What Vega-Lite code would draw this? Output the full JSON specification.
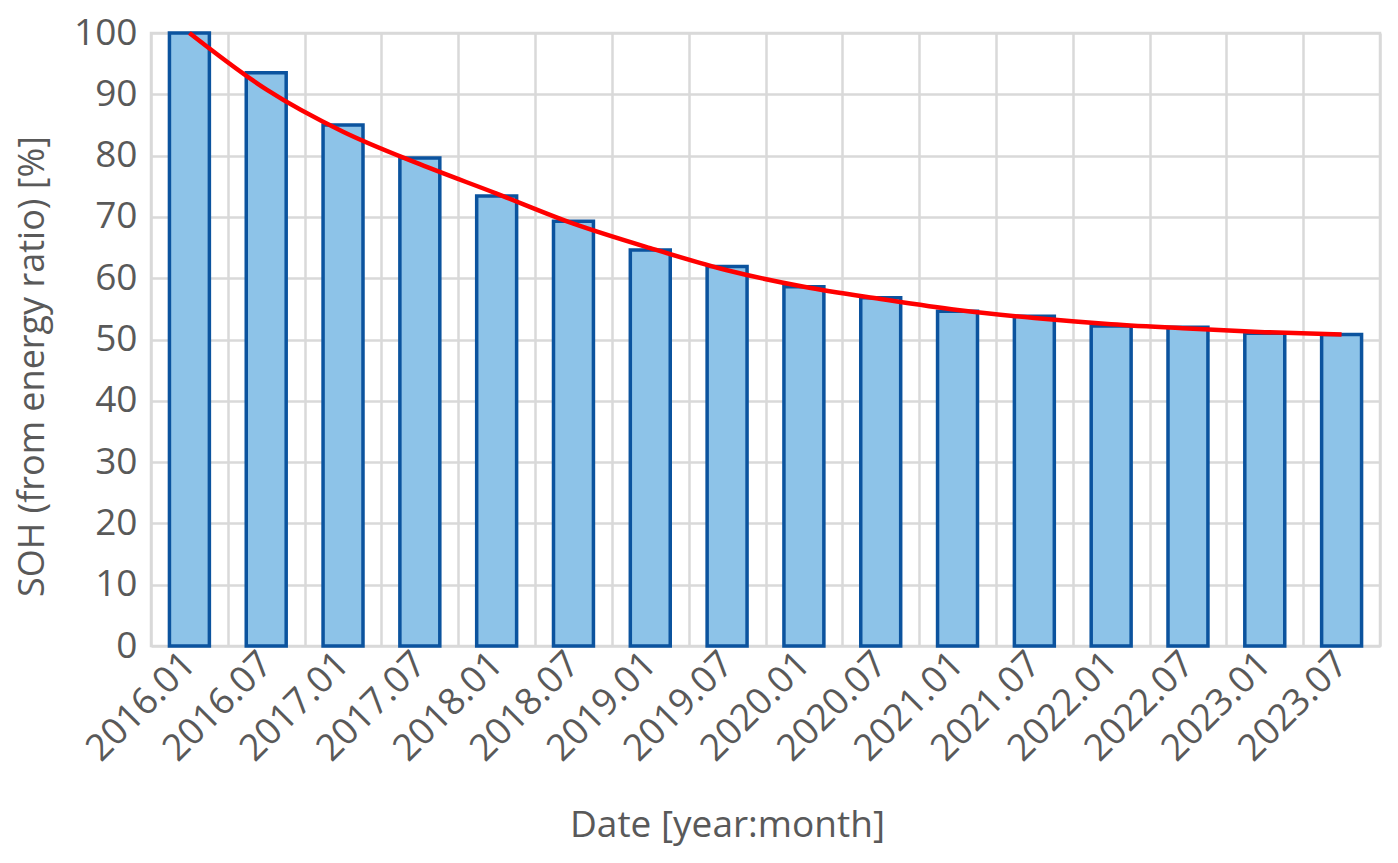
{
  "$schema": "https://vega.github.io/schema/vega-lite/v6.json",
  "autosize": "none",
  "width": 1229,
  "height": 613,
  "padding": {"left": 151, "top": 33, "right": 18, "bottom": 217},
  "background": "white",
  "data": {
    "values": [
      {"date": "2016.01", "soh": 100.0, "trend": 100.0},
      {"date": "2016.07", "soh": 93.5, "trend": 90.8},
      {"date": "2017.01", "soh": 85.0, "trend": 83.9},
      {"date": "2017.07", "soh": 79.6, "trend": 78.6},
      {"date": "2018.01", "soh": 73.4, "trend": 73.8},
      {"date": "2018.07", "soh": 69.3, "trend": 68.9},
      {"date": "2019.01", "soh": 64.6, "trend": 64.9},
      {"date": "2019.07", "soh": 61.9, "trend": 61.3},
      {"date": "2020.01", "soh": 58.6, "trend": 58.6},
      {"date": "2020.07", "soh": 56.8, "trend": 56.6},
      {"date": "2021.01", "soh": 54.6, "trend": 54.8},
      {"date": "2021.07", "soh": 53.8, "trend": 53.5},
      {"date": "2022.01", "soh": 52.2, "trend": 52.5},
      {"date": "2022.07", "soh": 52.0, "trend": 51.8},
      {"date": "2023.01", "soh": 51.0, "trend": 51.2},
      {"date": "2023.07", "soh": 50.8, "trend": 50.8}
    ]
  },
  "encoding": {
    "x": {
      "field": "date",
      "type": "ordinal",
      "sort": null,
      "scale": {"paddingInner": 0, "paddingOuter": 0},
      "axis": {
        "title": "Date [year:month]",
        "labelAngle": -45,
        "labelAlign": "right",
        "labelBaseline": "middle",
        "labelPadding": 12,
        "tickBand": "extent",
        "grid": true,
        "titleX": 576,
        "titlePadding": 40
      }
    }
  },
  "layer": [
    {
      "mark": {"type": "bar", "width": {"band": 0.52}, "fill": "#8DC3E8", "stroke": "#0B539E", "strokeWidth": 3.5},
      "encoding": {
        "y": {
          "field": "soh",
          "type": "quantitative",
          "scale": {"domain": [0, 100], "nice": false},
          "axis": {
            "title": "SOH (from energy ratio) [%]",
            "values": [0, 10, 20, 30, 40, 50, 60, 70, 80, 90, 100],
            "labelPadding": 14,
            "titlePadding": 22,
            "titleY": 333,
            "titleFontSize": 36
          }
        }
      }
    },
    {
      "mark": {"type": "line", "color": "#FF0000", "strokeWidth": 4.5, "interpolate": "monotone"},
      "encoding": {
        "y": {"field": "trend", "type": "quantitative"}
      }
    }
  ],
  "config": {
    "view": {"stroke": "#D9D9D9", "strokeWidth": 2.5},
    "font": "Open Sans",
    "axis": {
      "domain": false,
      "ticks": false,
      "gridColor": "#D9D9D9",
      "gridWidth": 2.5,
      "gridOpacity": 1,
      "labelFont": "Open Sans",
      "labelFontSize": 37,
      "labelColor": "#595959",
      "titleFont": "Open Sans",
      "titleFontSize": 37,
      "titleFontWeight": "normal",
      "titleColor": "#595959"
    }
  }
}
